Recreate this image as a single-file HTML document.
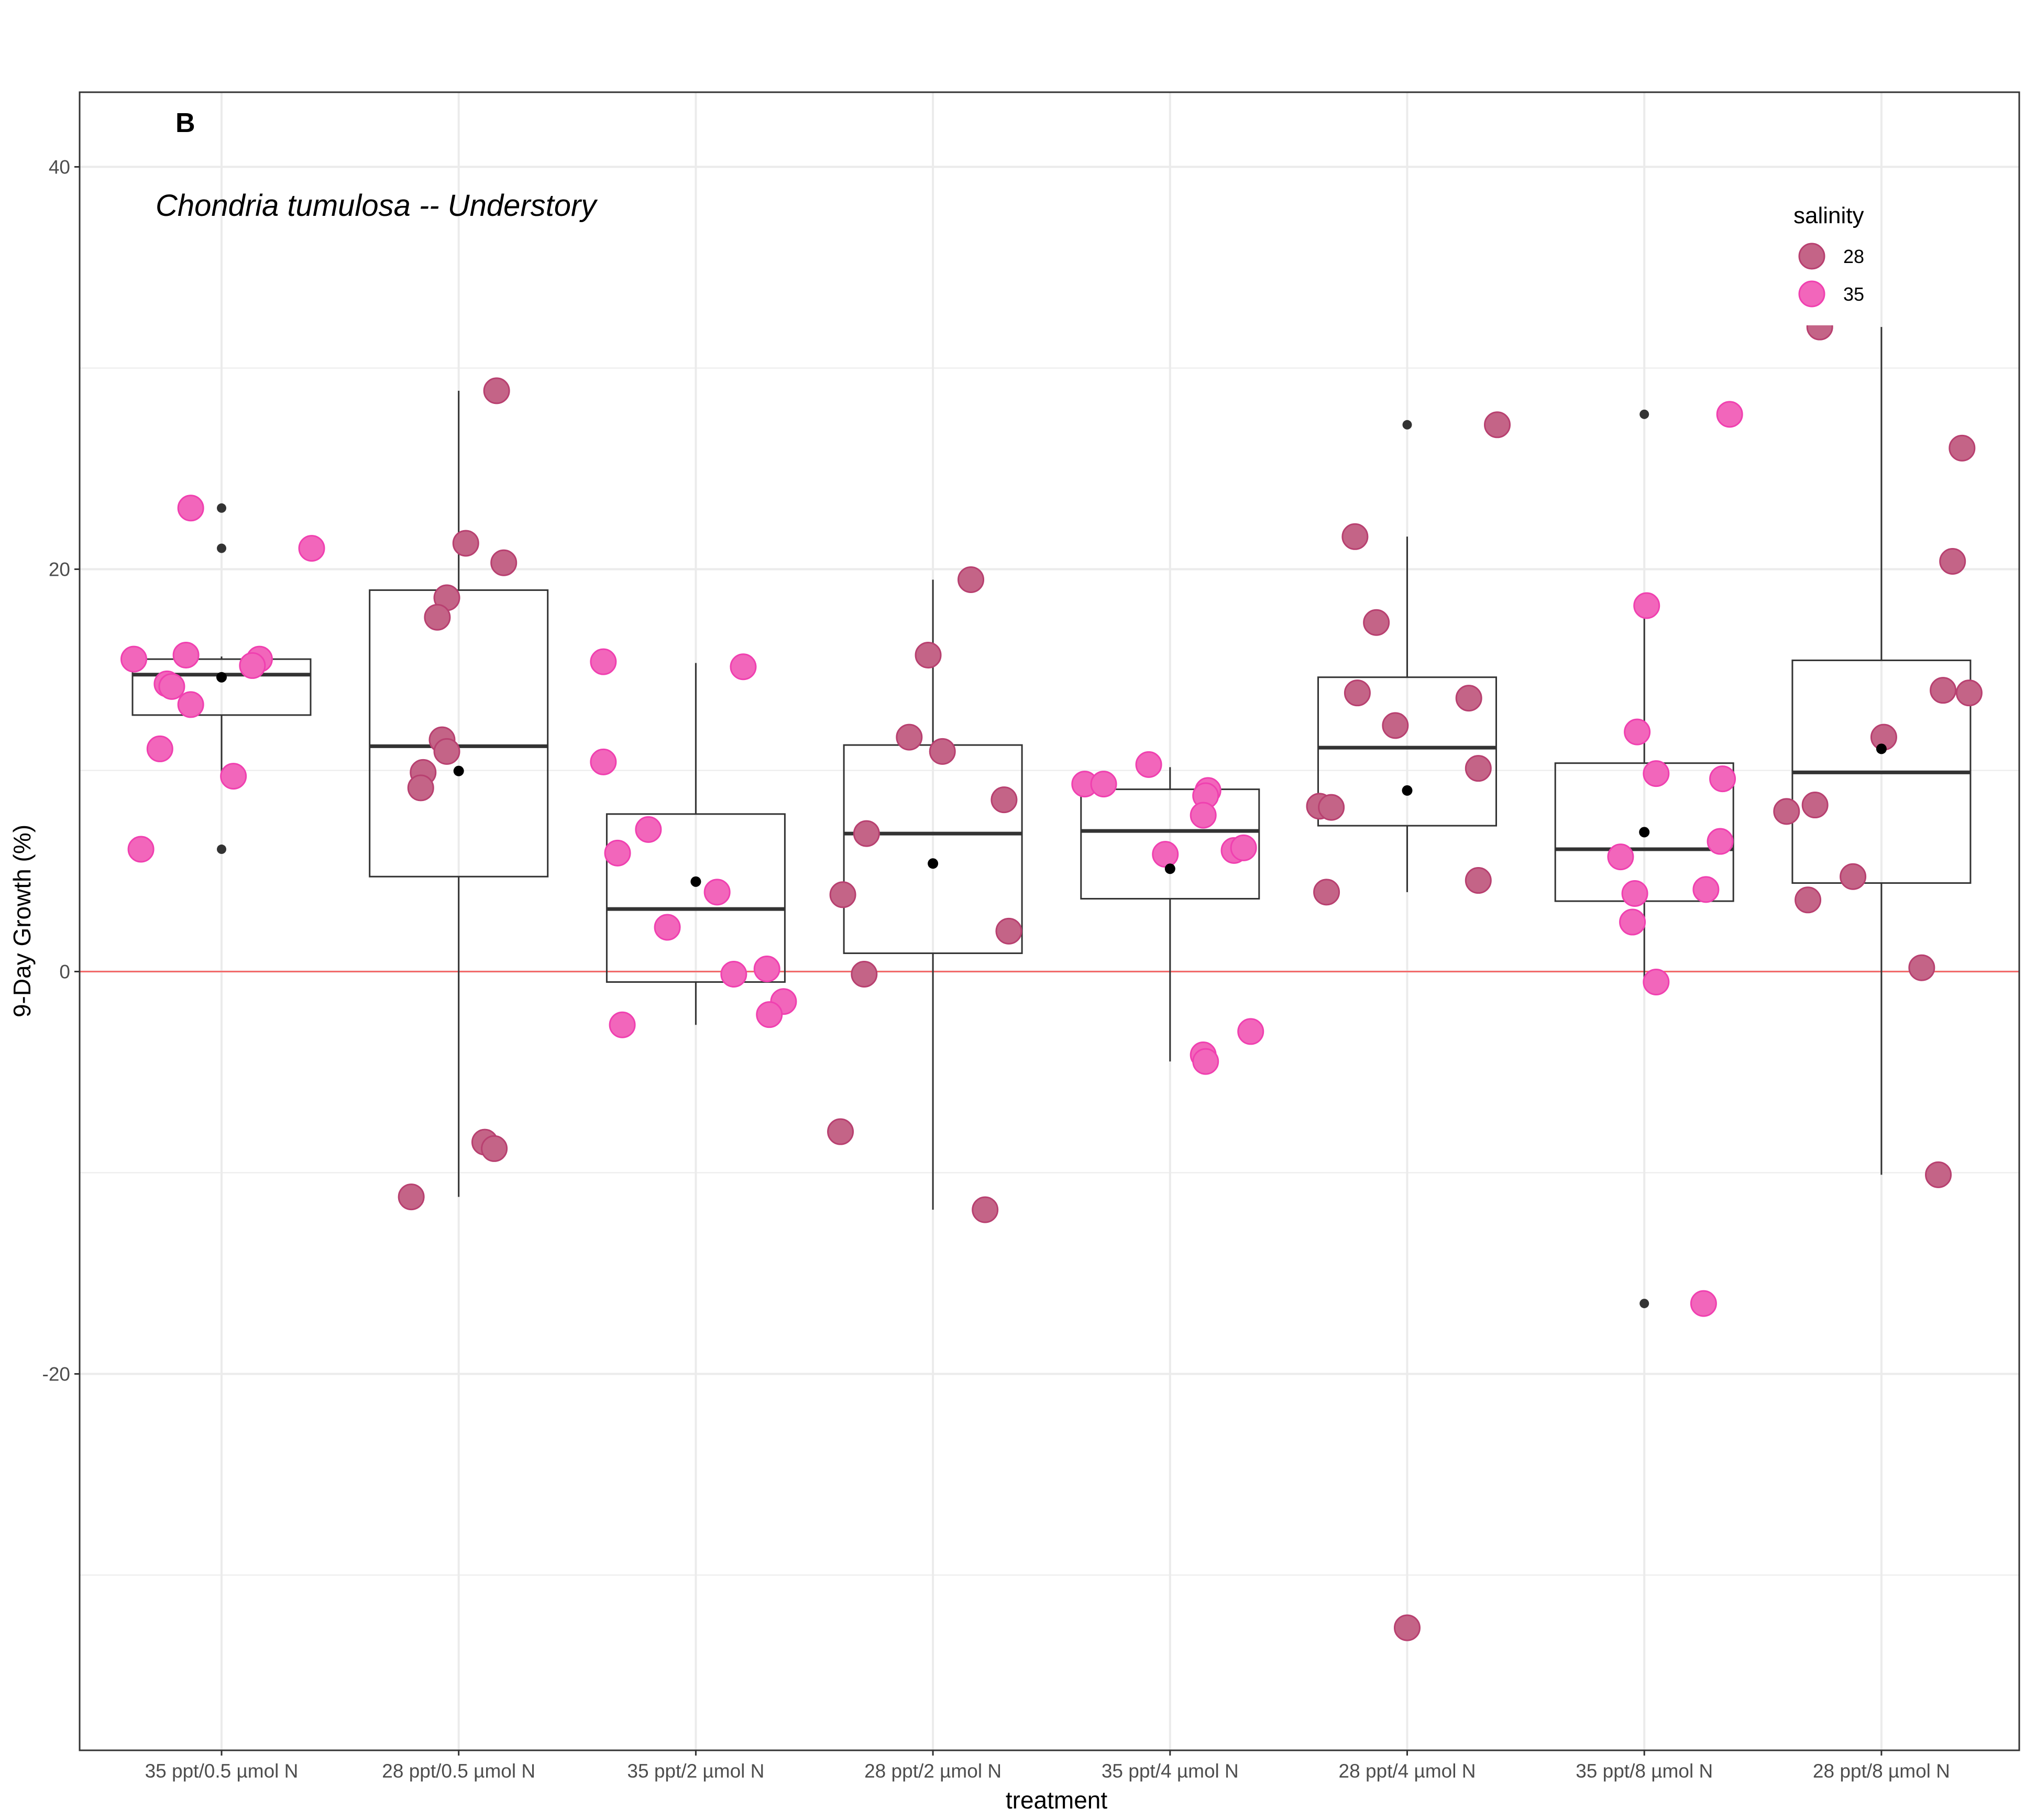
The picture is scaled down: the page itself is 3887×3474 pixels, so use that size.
<!DOCTYPE html>
<html><head><meta charset="utf-8"><style>
html,body{margin:0;padding:0;background:#fff;}
svg{display:block;font-family:"Liberation Sans",sans-serif;}
</style></head><body>
<svg id="chart" width="3887" height="3474" viewBox="0 0 3887 3474" xmlns="http://www.w3.org/2000/svg">
<rect x="0" y="0" width="3887" height="3474" fill="#fff"/>
<g id="grid"></g>
<g id="boxes"></g>
<g id="points"></g>
<rect x="152" y="176" width="3703" height="3165" fill="none" stroke="#333" stroke-width="3"/>
<g id="axes"></g>
<text x="335" y="252" font-size="52" font-weight="bold">B</text>
<text x="297" y="412" font-size="58" font-style="italic">Chondria tumulosa -- Understory</text>
<text x="2017" y="3452" font-size="46" text-anchor="middle">treatment</text>
<text transform="translate(58,1758) rotate(-90)" font-size="46" text-anchor="middle">9-Day Growth (%)</text>
<g>
<rect x="3395" y="370" width="195" height="251" fill="#fff"/>
<text x="3424" y="426" font-size="44">salinity</text>
<circle cx="3459" cy="489" r="24" fill="#c46487" stroke="#b84070" stroke-width="3"/>
<text x="3519" y="502" font-size="36">28</text>
<circle cx="3459" cy="561" r="24" fill="#f266bb" stroke="#f040b0" stroke-width="3"/>
<text x="3519" y="574" font-size="36">35</text>
</g>
</svg>
<script>
const categories = ["35 ppt/0.5 µmol N","28 ppt/0.5 µmol N","35 ppt/2 µmol N","28 ppt/2 µmol N","35 ppt/4 µmol N","28 ppt/4 µmol N","35 ppt/8 µmol N","28 ppt/8 µmol N"];
const catSalinity = [35,28,35,28,35,28,35,28];
const q1 = [12.75,4.72,-0.52,0.91,3.62,7.25,3.5,4.4];
const medians = [14.76,11.2,3.11,6.86,6.99,11.13,6.08,9.9];
const q3 = [15.53,18.96,7.83,11.26,9.06,14.63,10.36,15.47];
const whiskerLow = [9.7,-11.2,-2.65,-11.84,-4.47,3.95,-0.52,-10.1];
const whiskerHigh = [15.66,28.87,15.34,19.48,10.16,21.62,18.19,32.04];
const means = [14.63,9.97,4.47,5.37,5.11,9.0,6.93,11.07];
const outlierCat = [0,0,0,5,5,6,6];
const outlierVal = [23.04,21.04,6.08,27.18,-32.6,27.7,-16.5];
const yTicks = [40,20,0,-20];
const yTickLabels = ["40","20","0","-20"];
const yMinor = [30,10,-10,-30];
const ptCat = [0,0,0,0,0,0,0,0,0,0,0,0, 1,1,1,1,1,1,1,1,1,1,1,1, 2,2,2,2,2,2,2,2,2,2,2,2, 3,3,3,3,3,3,3,3,3,3,3, 4,4,4,4,4,4,4,4,4,4,4,4, 5,5,5,5,5,5,5,5,5,5,5,5, 6,6,6,6,6,6,6,6,6,6,6,6, 7,7,7,7,7,7,7,7,7,7,7,7];
const ptOff = [-0.13,0.38,-0.37,-0.15,0.16,0.13,-0.23,-0.21,-0.13,-0.26,0.05,-0.34,
 0.16,0.03,0.19,-0.05,-0.09,-0.07,-0.05,-0.15,-0.16,0.11,0.15,-0.20,
 -0.39,0.20,-0.39,-0.20,-0.33,0.09,-0.12,0.16,0.30,0.37,0.31,-0.31,
 0.16,-0.02,-0.10,0.04,0.30,-0.28,-0.38,0.32,-0.29,-0.39,0.22,
 -0.09,-0.36,-0.28,0.16,0.15,0.14,-0.02,0.27,0.31,0.34,0.14,0.15,
 0.38,-0.22,-0.13,-0.21,-0.05,0.26,0.30,-0.37,-0.32,-0.34,0.30,0,
 0.36,0.01,-0.03,0.05,0.33,0.32,-0.10,-0.04,0.26,-0.05,0.05,0.25,
 -0.26,0.34,0.30,0.26,0.37,0.01,-0.40,-0.28,-0.12,-0.31,0.17,0.24];
const ptVal = [23.04,21.04,15.53,15.73,15.53,15.21,14.30,14.17,13.27,11.07,9.71,6.08,
 28.87,21.29,20.32,18.58,17.61,11.52,10.94,9.90,9.13,-8.48,-8.80,-11.20,
 15.40,15.15,10.42,7.06,5.89,3.95,2.20,-0.13,0.13,-1.49,-2.14,-2.65,
 19.48,15.73,11.65,10.94,8.54,6.86,3.82,2.01,-0.13,-7.96,-11.84,
 10.29,9.32,9.32,9.00,8.74,7.77,5.83,6.02,6.15,-2.98,-4.14,-4.47,
 27.18,21.62,17.35,13.85,12.23,13.59,10.10,8.22,8.16,3.95,4.53,-32.62,
 27.70,18.19,11.91,9.84,9.58,6.47,5.70,3.88,4.08,2.46,-0.52,-16.50,
 32.04,26.02,20.39,13.98,13.85,11.65,7.96,8.28,4.72,3.56,0.19,-10.10];

const NS="http://www.w3.org/2000/svg";
const X0=423, XSTEP=452.7, Y0=1854.5, YU=38.4, PL=152, PR=3855, PT=176, PB=3341;
function xPos(i){return X0+i*XSTEP;}
function yPos(v){return Y0-v*YU;}
function mk(tag,attrs,parent){const e=document.createElementNS(NS,tag);for(const k in attrs)e.setAttribute(k,attrs[k]);parent.appendChild(e);return e;}
const grid=document.getElementById('grid'),boxes=document.getElementById('boxes'),pts=document.getElementById('points'),axes=document.getElementById('axes');
yMinor.forEach(v=>{const l=mk('line',{x1:PL,x2:PR,y1:yPos(v),y2:yPos(v),stroke:'#ebebeb','stroke-width':2},grid);

});
yTicks.forEach((v,i)=>{const l=mk('line',{x1:PL,x2:PR,y1:yPos(v),y2:yPos(v),stroke:'#ebebeb','stroke-width':4},grid);


const t=mk('line',{x1:PL-10,x2:PL,y1:yPos(v),y2:yPos(v),stroke:'#333','stroke-width':3},axes);


const tx=mk('text',{x:PL-18,y:yPos(v)+13,'font-size':37,'text-anchor':'end',fill:'#4d4d4d'},axes);tx.textContent=yTickLabels[i];

});
categories.forEach((c,i)=>{const x=xPos(i);
const l=mk('line',{x1:x,x2:x,y1:PT,y2:PB,stroke:'#ebebeb','stroke-width':4},grid);


const t=mk('line',{x1:x,x2:x,y1:PB,y2:PB+10,stroke:'#333','stroke-width':3},axes);


const tx=mk('text',{x:x,y:PB+52,'font-size':37,'text-anchor':'middle',fill:'#4d4d4d'},axes);tx.textContent=c;

});
const zl=mk('line',{x1:PL,x2:PR,y1:yPos(0),y2:yPos(0),stroke:'#f36b6b','stroke-width':3},grid);


const HW=170;
categories.forEach((c,i)=>{const x=xPos(i);
const g=mk('g',{},boxes);


mk('line',{x1:x,x2:x,y1:yPos(whiskerHigh[i]),y2:yPos(q3[i]),stroke:'#333','stroke-width':3},g);
mk('line',{x1:x,x2:x,y1:yPos(q1[i]),y2:yPos(whiskerLow[i]),stroke:'#333','stroke-width':3},g);
mk('rect',{x:x-HW,y:yPos(q3[i]),width:2*HW,height:yPos(q1[i])-yPos(q3[i]),fill:'none',stroke:'#333','stroke-width':3},g);
mk('line',{x1:x-HW,x2:x+HW,y1:yPos(medians[i]),y2:yPos(medians[i]),stroke:'#333','stroke-width':7},g);});
outlierVal.forEach((v,k)=>{const o=mk('circle',{cx:xPos(outlierCat[k]),cy:yPos(v),r:9,fill:'#333'},boxes);

});
ptVal.forEach((v,k)=>{const s=catSalinity[ptCat[k]];
const c=mk('circle',{cx:xPos(ptCat[k]+ptOff[k]),cy:yPos(v),r:24,fill:s===28?'#c46487':'#f266bb',stroke:s===28?'#b84070':'#f040b0','stroke-width':3},pts);

});
means.forEach((v,i)=>{const m=mk('circle',{cx:xPos(i),cy:yPos(v),r:10,fill:'#000'},pts);

});
</script>
</body></html>
